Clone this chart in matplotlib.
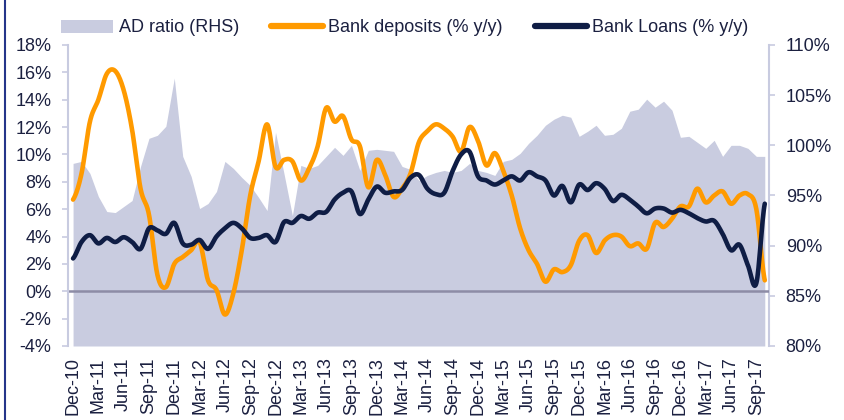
import matplotlib
matplotlib.use('Agg')
import matplotlib.pyplot as plt
import numpy as np
from matplotlib.lines import Line2D
from matplotlib.patches import Patch

plt.rcParams['font.family'] = ['Liberation Sans', 'DejaVu Sans']

tick_labels = ["Dec-10", "Mar-11", "Jun-11", "Sep-11", "Dec-11", "Mar-12", "Jun-12",
               "Sep-12", "Dec-12", "Mar-13", "Jun-13", "Sep-13", "Dec-13", "Mar-14",
               "Jun-14", "Sep-14", "Dec-14", "Mar-15", "Jun-15", "Sep-15", "Dec-15",
               "Mar-16", "Jun-16", "Sep-16", "Dec-16", "Mar-17", "Jun-17", "Sep-17"]

# Monthly, Dec-10 .. Oct-17
ad_ratio = [98.2, 98.4, 97.2, 94.9, 93.4, 93.3, 93.9, 94.5, 97.9, 100.7,
            101.0, 101.9, 106.7, 98.9, 96.9, 93.7, 94.2, 95.4, 98.4, 97.7,
            96.8, 96.0, 94.8, 93.5, 101.3, 97.2, 93.0, 98.0, 97.7, 98.0,
            98.9, 99.8, 99.0, 100.0, 97.5, 99.5, 99.6, 99.5, 99.4, 97.9,
            97.6, 96.5, 97.0, 97.3, 97.5, 97.3, 97.5, 98.2, 97.5, 97.3,
            97.0, 98.4, 98.6, 99.2, 100.2, 101.0, 102.0, 102.6, 103.0, 102.8,
            100.9, 101.4, 102.0, 101.0, 101.1, 101.7, 103.4, 103.6, 104.6, 103.8,
            104.4, 103.5, 100.8, 100.9, 100.3, 99.7, 100.5, 98.9, 100.0, 100.0,
            99.7, 98.9, 98.9]

deposits = [6.7, 8.6, 12.4, 14.0, 15.9, 16.1, 14.7, 11.8, 7.5, 5.6,
            1.2, 0.3, 2.0, 2.5, 3.0, 3.6, 0.8, 0.1, -1.7, -0.15,
            3.0, 7.0, 9.5, 12.2, 9.1, 9.6, 9.5, 8.1, 9.0, 10.6,
            13.4, 12.4, 12.8, 11.1, 10.6, 7.6, 9.6, 8.5, 6.9, 7.5,
            8.6, 10.9, 11.7, 12.2, 11.9, 11.3, 10.2, 12.0, 11.0, 9.2,
            10.1, 8.8, 7.0, 4.6, 3.0, 2.0, 0.7, 1.6, 1.4, 1.9,
            3.7, 4.1, 2.8, 3.7, 4.1, 4.0, 3.3, 3.5, 3.1, 5.0,
            4.7, 5.3, 6.2, 6.2, 7.5, 6.5, 7.0, 7.3, 6.4, 7.0,
            7.1, 6.0, 0.8]

loans = [2.4, 3.6, 4.1, 3.5, 3.9, 3.6, 3.95, 3.6, 3.1, 4.6,
         4.45, 4.2, 5.0, 3.5, 3.4, 3.75, 3.1, 4.0, 4.6, 5.0,
         4.6, 3.9, 3.9, 4.1, 3.6, 5.05, 5.0, 5.5, 5.3, 5.75,
         5.8, 6.7, 7.2, 7.3, 5.65, 6.7, 7.65, 7.2, 7.3, 7.4,
         8.3, 8.5, 7.5, 7.1, 7.2, 8.8, 10.0, 10.2, 8.4, 8.1,
         7.8, 8.1, 8.4, 8.1, 8.7, 8.4, 8.1, 7.0, 7.7, 6.5,
         7.8, 7.4, 7.9, 7.5, 6.6, 7.05, 6.7, 6.2, 5.7, 6.05,
         6.05, 5.75, 5.95, 5.7, 5.35, 5.1, 5.15, 4.2, 3.0, 3.4,
         1.9, 0.6, 6.4]

AREA = '#c9cce0'
ORANGE = '#ff9a00'
NAVY = '#0f1d45'
TEXT = '#1b2040'
SPINE = '#c8cbe0'
FS = 13


def smooth(vals, n=16):
    y = np.asarray(vals, float)
    xs, ys = [], []
    N = len(y)
    for i in range(N - 1):
        p0 = y[i - 1] if i > 0 else y[i]
        p1, p2 = y[i], y[i + 1]
        p3 = y[i + 2] if i + 2 < N else y[i + 1]
        t = np.linspace(0, 1, n, endpoint=False)
        yy = 0.5 * (2 * p1 + (-p0 + p2) * t + (2 * p0 - 5 * p1 + 4 * p2 - p3) * t ** 2
                    + (-p0 + 3 * p1 - 3 * p2 + p3) * t ** 3)
        xs.append(i + t)
        ys.append(yy)
    xs.append(np.array([N - 1.0]))
    ys.append(np.array([y[-1]]))
    return np.concatenate(xs), np.concatenate(ys)


fig = plt.figure(figsize=(8.45, 4.2), dpi=100)
ax = fig.add_axes([68 / 845, 74 / 420, 701 / 845, 301 / 420])
x = np.arange(len(ad_ratio))

ax.fill_between(x, ad_ratio, 80, color=AREA, lw=0, zorder=1)
ax.set_xlim(-0.6, 82.5)
ax.set_xticks(np.arange(0, len(ad_ratio), 3))
ax.set_xticklabels(tick_labels, rotation=90)
ax.tick_params(axis='x', length=0, pad=8, labelsize=FS, labelcolor=TEXT)
for s in ['top', 'bottom', 'left']:
    ax.spines[s].set_visible(False)
ax.spines['right'].set_color(SPINE)
ax.spines['right'].set_linewidth(1.5)

ax2 = ax.twinx()
ax2.set_ylim(-4, 18)
ax2.set_yticks(np.arange(-4, 19, 2))
ax2.set_yticklabels([f"{v}%" for v in range(-4, 19, 2)])
ax2.yaxis.tick_left()
ax2.tick_params(axis='y', length=4, width=1.2, color=SPINE, pad=8, labelsize=FS, labelcolor=TEXT)
for s in ['top', 'bottom', 'right']:
    ax2.spines[s].set_visible(False)
ax2.spines['left'].set_color(SPINE)
ax2.spines['left'].set_linewidth(1.5)
ax2.axhline(0, color='#8d8ca6', lw=1.8, zorder=2)

# right axis for the area (after twinx, which resets tick sides)
ax.set_ylim(80, 110)
ax.set_yticks(np.arange(80, 111, 5))
ax.set_yticklabels([f"{v}%" for v in range(80, 111, 5)])
ax.yaxis.tick_right()
ax.yaxis.set_label_position('right')
ax.tick_params(axis='y', length=4, width=1.2, color=SPINE, pad=8, labelsize=FS, labelcolor=TEXT)

xs, ys = smooth(deposits)
ax2.plot(xs, ys, color=ORANGE, lw=3.3, solid_capstyle='round', zorder=3)
xs, ys = smooth(loans)
ax2.plot(xs, ys, color=NAVY, lw=3.3, solid_capstyle='round', zorder=4)
ax2.set_xlim(-0.6, 82.5)

handles = [Patch(facecolor=AREA, edgecolor='none'),
           Line2D([], [], color=ORANGE, lw=4.5, solid_capstyle='round'),
           Line2D([], [], color=NAVY, lw=4.5, solid_capstyle='round')]
labels = ["AD ratio (RHS)", "Bank deposits (% y/y)", "Bank Loans (% y/y)"]
fig.legend(handles, labels, loc='center left', bbox_to_anchor=(61 / 845, 1 - 28 / 420),
           ncol=3, frameon=False, fontsize=FS, handlelength=2.9, handletextpad=0.3,
           columnspacing=1.75, borderpad=0, borderaxespad=0, labelcolor=TEXT)

fig.add_artist(Line2D([5 / 845, 5 / 845], [0, 1], color='#25358a', lw=1.5,
                      transform=fig.transFigure))

fig.savefig('out.png', dpi=100)
